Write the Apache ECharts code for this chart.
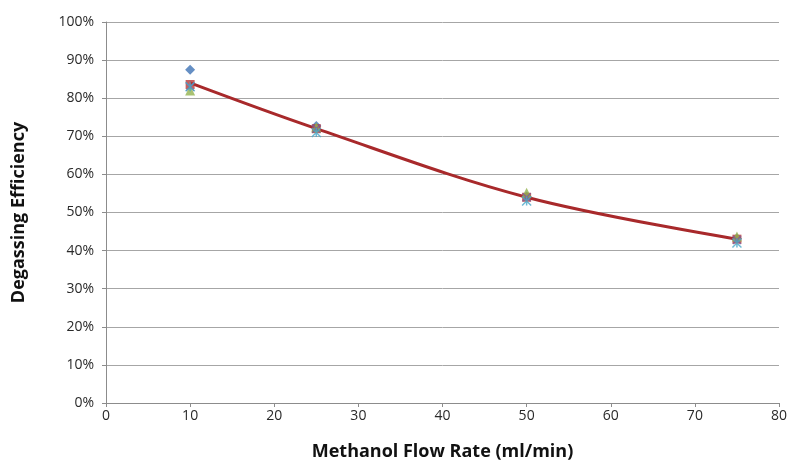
<!DOCTYPE html>
<html><head><meta charset="utf-8">
<script src="https://cdn.jsdelivr.net/npm/echarts@6/dist/echarts.min.js"></script>
<style>html,body{margin:0;padding:0;background:#fff}#c{width:792px;height:466px}</style>
</head><body><div id="c"></div>
<script>
const flowRates = [10, 25, 50, 75];
const seriesNames = ['Run 1', 'Run 2', 'Run 3', 'Run 4', 'Run 5'];
const run1 = [87.5, 72.7, 54.2, 43.2];
const run2 = [83.6, 72.0, 54.0, 43.0];
const run3 = [82.0, 72.4, 55.2, 43.7];
const run4 = [83.0, 72.0, 54.0, 42.8];
const run5 = [83.0, 71.0, 53.0, 42.0];
const trend = [84.0, 72.0, 54.0, 43.0];
const xTicks = [0, 10, 20, 30, 40, 50, 60, 70, 80];
const yTicks = [0, 10, 20, 30, 40, 50, 60, 70, 80, 90, 100];

const F = '"Open Sans", Lato, sans-serif';
const pairs = v => flowRates.map((x, i) => [x, v[i]]);
const markers = [
  {d: run1, sym: 'diamond', size: 10, color: '#3F73B5'},
  {d: run2, sym: 'rect', size: 9, color: '#B8393A'},
  {d: run3, sym: 'triangle', size: 10, color: '#93B34F'},
  {d: run4, sym: 'path://M0,0L2,2M2,0L0,2', size: 8, color: '#7A5C9E', stroke: true},
  {d: run5, sym: 'path://M0,0L2,2M2,0L0,2M1,0L1,2', size: 9, color: '#4AA8C8', stroke: true}
];
const series = [];
series.push({type: 'line', data: pairs(trend), smooth: 0.35, symbol: 'none',
  lineStyle: {color: '#A8292B', width: 3}, z: 3});
markers.forEach((m, i) => {
  series.push({type: 'scatter', name: seriesNames[i], data: pairs(m.d), symbol: m.sym, symbolSize: m.size,
    itemStyle: m.stroke ? {color: 'none', borderColor: m.color, borderWidth: 1.5} : {color: m.color},
    z: 4 + (i === 3 || i === 4 ? 1 : 0)});
});

const chart = echarts.init(document.getElementById('c'));
chart.setOption({
  animation: false,
  grid: {left: 106, right: 13, top: 22, bottom: 60},
  xAxis: {type: 'value', min: 0, max: 80, interval: 10,
    axisLine: {show: true, lineStyle: {color: '#8C8C8C'}},
    axisTick: {show: true, length: 4, lineStyle: {color: '#8C8C8C'}},
    splitLine: {show: false},
    axisLabel: {fontFamily: F, fontSize: 14, color: '#2a2a2a', margin: 6,
      formatter: v => xTicks.includes(v) ? String(v) : ''},
    name: 'Methanol Flow Rate (ml/min)', nameLocation: 'middle', nameGap: 40,
    nameTextStyle: {fontFamily: F, fontSize: 18, fontWeight: 'bold', color: '#111'}},
  yAxis: {type: 'value', min: 0, max: 100, interval: 10,
    axisLine: {show: true, lineStyle: {color: '#8C8C8C'}},
    axisTick: {show: true, length: 4, lineStyle: {color: '#8C8C8C'}},
    splitLine: {show: true, lineStyle: {color: '#A6A6A6', width: 1}},
    axisLabel: {fontFamily: F, fontSize: 14, color: '#2a2a2a', margin: 12,
      formatter: v => yTicks.includes(v) ? v + '%' : ''},
    name: 'Degassing Efficiency', nameLocation: 'middle', nameGap: 78,
    nameTextStyle: {fontFamily: F, fontSize: 18, fontWeight: 'bold', color: '#111'}},
  series: series
});
</script></body></html>
